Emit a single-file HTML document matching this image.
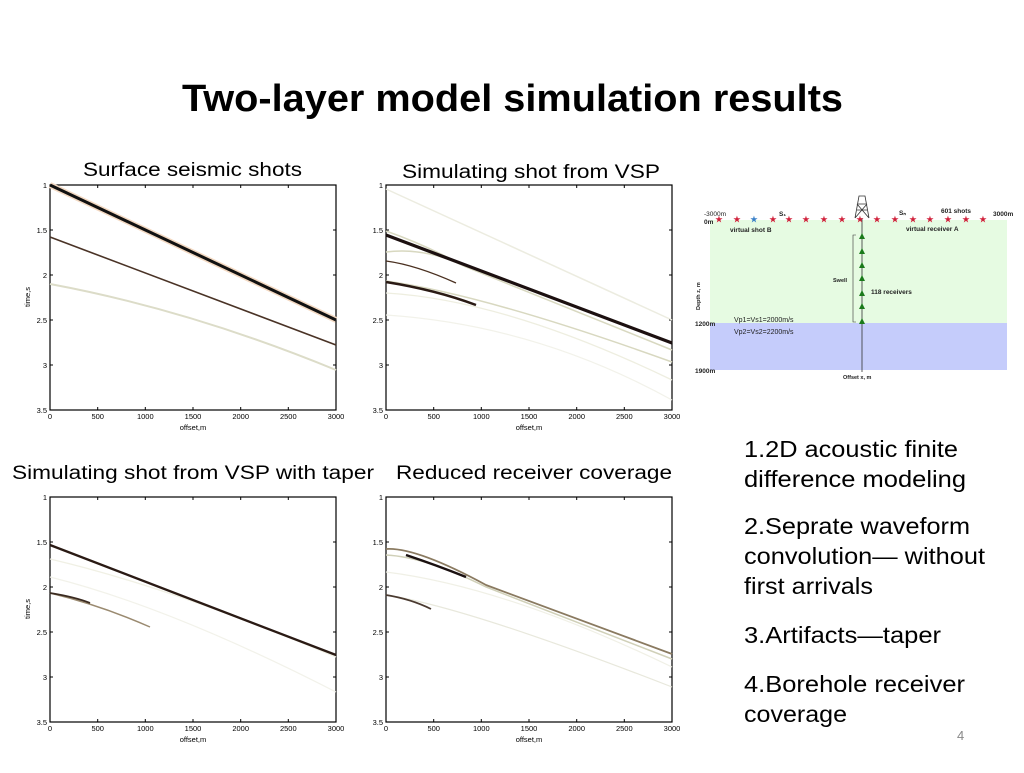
<!DOCTYPE html>
<html><head><meta charset="utf-8"><style>
body{margin:0;width:1024px;height:768px;background:#fff;overflow:hidden;font-family:"Liberation Sans",sans-serif;}
</style></head><body>
<svg width="1024" height="768" xmlns="http://www.w3.org/2000/svg" font-family="Liberation Sans, sans-serif">
<text x="182" y="111" font-size="38" font-weight="bold" fill="#000" textLength="661" lengthAdjust="spacingAndGlyphs">Two-layer model simulation results</text>

<text x="83" y="176" font-size="19" textLength="219" lengthAdjust="spacingAndGlyphs">Surface seismic shots</text>
<text x="402" y="178" font-size="19" textLength="258" lengthAdjust="spacingAndGlyphs">Simulating shot from VSP</text>
<text x="12" y="479" font-size="19" textLength="362" lengthAdjust="spacingAndGlyphs">Simulating shot from VSP with taper</text>
<text x="396" y="479" font-size="19" textLength="276" lengthAdjust="spacingAndGlyphs">Reduced receiver coverage</text>

<defs>
<g id="axes">
<rect x="0" y="0" width="286" height="225" fill="none" stroke="#000" stroke-width="1.2"/>
<g stroke="#000" stroke-width="1">
<line x1="47.7" y1="0" x2="47.7" y2="3"/><line x1="95.3" y1="0" x2="95.3" y2="3"/><line x1="143" y1="0" x2="143" y2="3"/><line x1="190.7" y1="0" x2="190.7" y2="3"/><line x1="238.3" y1="0" x2="238.3" y2="3"/>
<line x1="47.7" y1="225" x2="47.7" y2="222"/><line x1="95.3" y1="225" x2="95.3" y2="222"/><line x1="143" y1="225" x2="143" y2="222"/><line x1="190.7" y1="225" x2="190.7" y2="222"/><line x1="238.3" y1="225" x2="238.3" y2="222"/>
<line x1="0" y1="45" x2="3" y2="45"/><line x1="0" y1="90" x2="3" y2="90"/><line x1="0" y1="135" x2="3" y2="135"/><line x1="0" y1="180" x2="3" y2="180"/>
<line x1="286" y1="45" x2="283" y2="45"/><line x1="286" y1="90" x2="283" y2="90"/><line x1="286" y1="135" x2="283" y2="135"/><line x1="286" y1="180" x2="283" y2="180"/>
</g>
<g font-size="7.5" fill="#000" text-anchor="end">
<text x="-3" y="3">1</text><text x="-3" y="48">1.5</text><text x="-3" y="93">2</text><text x="-3" y="138">2.5</text><text x="-3" y="183">3</text><text x="-3" y="228">3.5</text>
</g>
<g font-size="7.5" fill="#000" text-anchor="middle">
<text x="0" y="234">0</text><text x="47.7" y="234">500</text><text x="95.3" y="234">1000</text><text x="143" y="234">1500</text><text x="190.7" y="234">2000</text><text x="238.3" y="234">2500</text><text x="286" y="234">3000</text>
<text x="143" y="245">offset,m</text>
</g>
</g>
</defs>

<g transform="translate(50,185)">
<use href="#axes"/>
<text transform="translate(-20,112) rotate(-90)" font-size="7.5" text-anchor="middle">time,s</text>
<line x1="0" y1="0" x2="286" y2="135" stroke="#f3d9c2" stroke-width="6"/>
<line x1="0" y1="0" x2="286" y2="135" stroke="#111" stroke-width="3"/>
<line x1="0" y1="52" x2="286" y2="160" stroke="#4a3326" stroke-width="1.6"/>
<path d="M0 99 Q140 125 286 185" fill="none" stroke="#dcdcc8" stroke-width="2"/>
</g>

<g transform="translate(386,185)">
<use href="#axes"/>
<line x1="0" y1="4" x2="286" y2="135" stroke="#ecece0" stroke-width="1.5"/>
<path d="M0 67 Q40 62 80 82 L286 165" fill="none" stroke="#d8d8c0" stroke-width="1.5"/>
<path d="M0 46 Q40 60 80 82" fill="none" stroke="#d8d8c0" stroke-width="1.5"/>
<path d="M0 108 Q120 115 286 195" fill="none" stroke="#eeeee0" stroke-width="1.3"/>
<path d="M0 96 Q100 110 286 177" fill="none" stroke="#d8d8c0" stroke-width="1.5"/>
<path d="M0 130 Q150 140 286 215" fill="none" stroke="#f2f2ea" stroke-width="1.2"/>
<line x1="0" y1="50" x2="286" y2="158" stroke="#1c1010" stroke-width="3.2"/>
<path d="M0 76 Q30 80 70 98" fill="none" stroke="#4a3020" stroke-width="1.3"/>
<path d="M0 97 Q50 105 90 120" fill="none" stroke="#2a1a14" stroke-width="2.5"/>
</g>

<g transform="translate(50,497)">
<use href="#axes"/>
<text transform="translate(-20,112) rotate(-90)" font-size="7.5" text-anchor="middle">time,s</text>
<path d="M0 62 Q120 90 286 160" fill="none" stroke="#f0f0e4" stroke-width="1.3"/>
<path d="M0 80 Q120 110 286 195" fill="none" stroke="#f2f2ea" stroke-width="1.2"/>
<line x1="0" y1="48" x2="286" y2="158" stroke="#2a1a14" stroke-width="2.3"/>
<path d="M0 96 Q50 108 100 130" fill="none" stroke="#9a8a70" stroke-width="1.5"/>
<path d="M0 96 Q25 100 40 106" fill="none" stroke="#3a2a20" stroke-width="1.8"/>
</g>

<g transform="translate(386,497)">
<use href="#axes"/>
<path d="M0 58 Q40 60 100 90 L286 162" fill="none" stroke="#d0d0b8" stroke-width="1.5"/>
<path d="M0 52 Q30 50 100 88 L286 157" fill="none" stroke="#8a7a60" stroke-width="1.8"/>
<path d="M20 58 Q50 68 80 80" fill="none" stroke="#1a1010" stroke-width="2.5"/>
<path d="M0 75 Q120 90 286 170" fill="none" stroke="#f0f0e6" stroke-width="1.2"/>
<path d="M0 98 Q80 110 286 190" fill="none" stroke="#e8e8dc" stroke-width="1.2"/>
<path d="M0 98 Q25 102 45 112" fill="none" stroke="#4a3a30" stroke-width="1.8"/>
</g>

<g font-size="6.5" font-weight="bold" fill="#222">
<rect x="710" y="220" width="297" height="103" fill="#e6fbe2"/>
<rect x="710" y="323" width="297" height="47" fill="#c5ccfb"/>
<line x1="862" y1="218" x2="862" y2="372" stroke="#333" stroke-width="0.8"/>
<path d="M855 218 L859 196 L865 196 L869 218 M857 210 L867 210 M858 204 L866 204 M855 218 L867 204 M869 218 L857 204" fill="none" stroke="#333" stroke-width="0.8"/>
<g fill="#d0203a" font-size="8" text-anchor="middle">
<text x="719" y="222">★</text><text x="737" y="222">★</text><text x="773" y="222">★</text><text x="789" y="222">★</text><text x="806" y="222">★</text><text x="824" y="222">★</text><text x="842" y="222">★</text><text x="860" y="222">★</text><text x="877" y="222">★</text><text x="895" y="222">★</text><text x="913" y="222">★</text><text x="930" y="222">★</text><text x="948" y="222">★</text><text x="966" y="222">★</text><text x="983" y="222">★</text>
<text x="754" y="222" fill="#3a80c8">★</text>
</g>
<text x="704" y="216" font-weight="normal">-3000m</text><text x="704" y="224">0m</text>
<text x="993" y="216">3000m</text><text x="941" y="213">601 shots</text>
<text x="779" y="216">S₁</text><text x="899" y="215">Sₙ</text>
<text x="730" y="232">virtual shot B</text><text x="906" y="231">virtual receiver A</text>
<text x="833" y="282" font-size="5.5">Swell</text><text x="871" y="294">118 receivers</text>
<path d="M856 235 L853 235 L853 322 L856 322" fill="none" stroke="#333" stroke-width="0.6"/>
<g fill="#1a7a1a"><path d="M859 239 L865 239 L862 233Z"/><path d="M859 254 L865 254 L862 248Z"/><path d="M859 268 L865 268 L862 262Z"/><path d="M859 281 L865 281 L862 275Z"/><path d="M859 296 L865 296 L862 290Z"/><path d="M859 309 L865 309 L862 303Z"/><path d="M859 324 L865 324 L862 318Z"/></g>
<text x="734" y="322" font-weight="normal" font-size="7">Vp1=Vs1=2000m/s</text>
<text x="734" y="334" font-weight="normal" font-size="7">Vp2=Vs2=2200m/s</text>
<text x="695" y="326">1200m</text><text x="695" y="373">1900m</text>
<text transform="translate(700,310) rotate(-90)" font-size="5.5">Depth z, m</text>
<text x="843" y="379" font-size="5.5">Offset x, m</text>
</g>

<g font-size="23" fill="#000">
<text x="744" y="457" textLength="214" lengthAdjust="spacingAndGlyphs">1.2D acoustic finite</text>
<text x="744" y="487" textLength="222" lengthAdjust="spacingAndGlyphs">difference modeling</text>
<text x="744" y="534" textLength="226" lengthAdjust="spacingAndGlyphs">2.Seprate waveform</text>
<text x="744" y="564" textLength="241" lengthAdjust="spacingAndGlyphs">convolution— without</text>
<text x="744" y="594" textLength="129" lengthAdjust="spacingAndGlyphs">first arrivals</text>
<text x="744" y="643" textLength="197" lengthAdjust="spacingAndGlyphs">3.Artifacts—taper</text>
<text x="744" y="692" textLength="221" lengthAdjust="spacingAndGlyphs">4.Borehole receiver</text>
<text x="744" y="722" textLength="103" lengthAdjust="spacingAndGlyphs">coverage</text>
</g>
<text x="957" y="740" font-size="13" fill="#888">4</text>
</svg>
</body></html>
